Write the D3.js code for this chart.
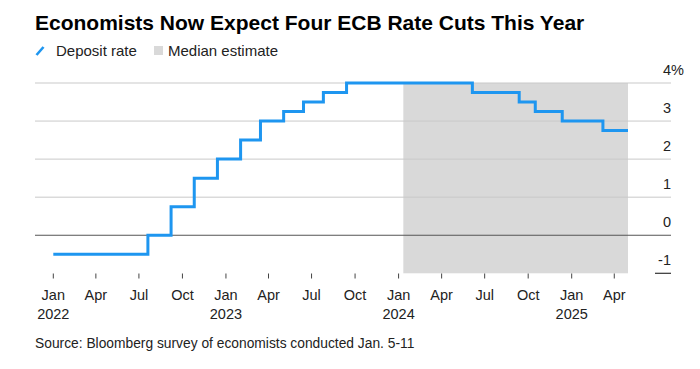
<!DOCTYPE html>
<html><head><meta charset="utf-8">
<script src="https://cdn.jsdelivr.net/npm/d3@7"></script>
<style>
html,body{margin:0;padding:0;background:#fff;}
text{font-family:"Liberation Sans",Arial,sans-serif;}
</style></head>
<body><svg id="c" width="700" height="369"></svg>
<script>
// Data
const stepDates = ["2022-01-01","2022-07-20","2022-09-07","2022-10-26","2022-12-14","2023-02-01","2023-03-15","2023-05-03","2023-06-14","2023-07-26","2023-09-13","2024-06-05","2024-09-12","2024-10-16","2024-12-12","2025-03-08","2025-04-30"];
const depositRate = [-0.5,0,0.75,1.5,2.0,2.5,3.0,3.25,3.5,3.75,4.0,3.75,3.5,3.25,3.0,2.75,2.75];
const medianStart = "2024-01-11";
const medianEnd = "2025-04-30";
const yTicks = [-1,0,1,2,3,4];
const xTickDates = ["2022-01-01","2022-04-01","2022-07-01","2022-10-01","2023-01-01","2023-04-01","2023-07-01","2023-10-01","2024-01-01","2024-04-01","2024-07-01","2024-10-01","2025-01-01","2025-04-01"];
const monthNames = ["Jan","Feb","Mar","Apr","May","Jun","Jul","Aug","Sep","Oct","Nov","Dec"];
const title = "Economists Now Expect Four ECB Rate Cuts This Year";
const source = "Source: Bloomberg survey of economists conducted Jan. 5-11";

const parse = d3.utcParse("%Y-%m-%d");
const data = stepDates.map((d,i)=>({date:parse(d), v:depositRate[i]}));

const svg = d3.select("#c");
const gridL = 35, gridR = 671;
const x = d3.scaleUtc().domain([parse("2022-01-01"), parse("2025-01-01")]).range([53.3, 571.7]);
const y = d3.scaleLinear().domain([-1,4]).range([273.3, 83]);

// title
svg.append("text").attr("x",35).attr("y",30).attr("font-size",21).attr("font-weight","bold").attr("fill","#000").text(title);

// legend
svg.append("line").attr("x1",36.5).attr("y1",55).attr("x2",43.5).attr("y2",47).attr("stroke","#1e96f0").attr("stroke-width",2.6);
svg.append("text").attr("x",56).attr("y",55.5).attr("font-size",15).attr("fill","#222").text("Deposit rate");
svg.append("rect").attr("x",154).attr("y",46).attr("width",9).attr("height",9).attr("fill","#d9d9d9");
svg.append("text").attr("x",168).attr("y",55.5).attr("font-size",15).attr("fill","#222").text("Median estimate");

// median band
svg.append("rect")
  .attr("x", x(parse(medianStart))).attr("y", y(4))
  .attr("width", x(parse(medianEnd)) - x(parse(medianStart)))
  .attr("height", y(-1) - y(4))
  .attr("fill","#d9d9d9");

// grid
yTicks.forEach(t=>{
  if (t === -1) {
    svg.append("line").attr("x1",655).attr("x2",gridR).attr("y1",y(t)).attr("y2",y(t)).attr("stroke","#333").attr("stroke-width",1.2);
  } else {
    svg.append("line").attr("x1",gridL).attr("x2",gridR).attr("y1",y(t)).attr("y2",y(t))
      .attr("stroke", t===0 ? "#555" : "#c9c9c9").attr("stroke-width", t===0?1.2:1);
  }
  svg.append("text").attr("x",671).attr("y",y(t)-8.5).attr("text-anchor","end").attr("font-size",14.5).attr("fill","#222").text(t);
  if (t===4) svg.append("text").attr("x",671).attr("y",y(t)-8.5).attr("font-size",14.5).attr("fill","#222").text("%");
});

// x ticks
const xt = xTickDates.map(parse);
const gx = svg.append("g");
xt.forEach(d=>{
  const px = x(d);
  gx.append("line").attr("x1",px).attr("x2",px).attr("y1",273.5).attr("y2",278.5).attr("stroke","#444").attr("stroke-width",1);
  gx.append("text").attr("x",px).attr("y",299.5).attr("text-anchor","middle").attr("font-size",14.5).attr("fill","#222").text(monthNames[d.getUTCMonth()]);
  if (d.getUTCMonth()===0) gx.append("text").attr("x",px).attr("y",318.5).attr("text-anchor","middle").attr("font-size",14.5).attr("fill","#222").text(d.getUTCFullYear());
});

// line
const line = d3.line().x(d=>x(d.date)).y(d=>y(d.v)).curve(d3.curveStepAfter);
svg.append("path").datum(data).attr("d",line).attr("fill","none").attr("stroke","#1e96f0").attr("stroke-width",3).attr("stroke-linejoin","miter");

// source
svg.append("text").attr("x",35).attr("y",348).attr("font-size",13.8).attr("fill","#222").text(source);
</script></body></html>
